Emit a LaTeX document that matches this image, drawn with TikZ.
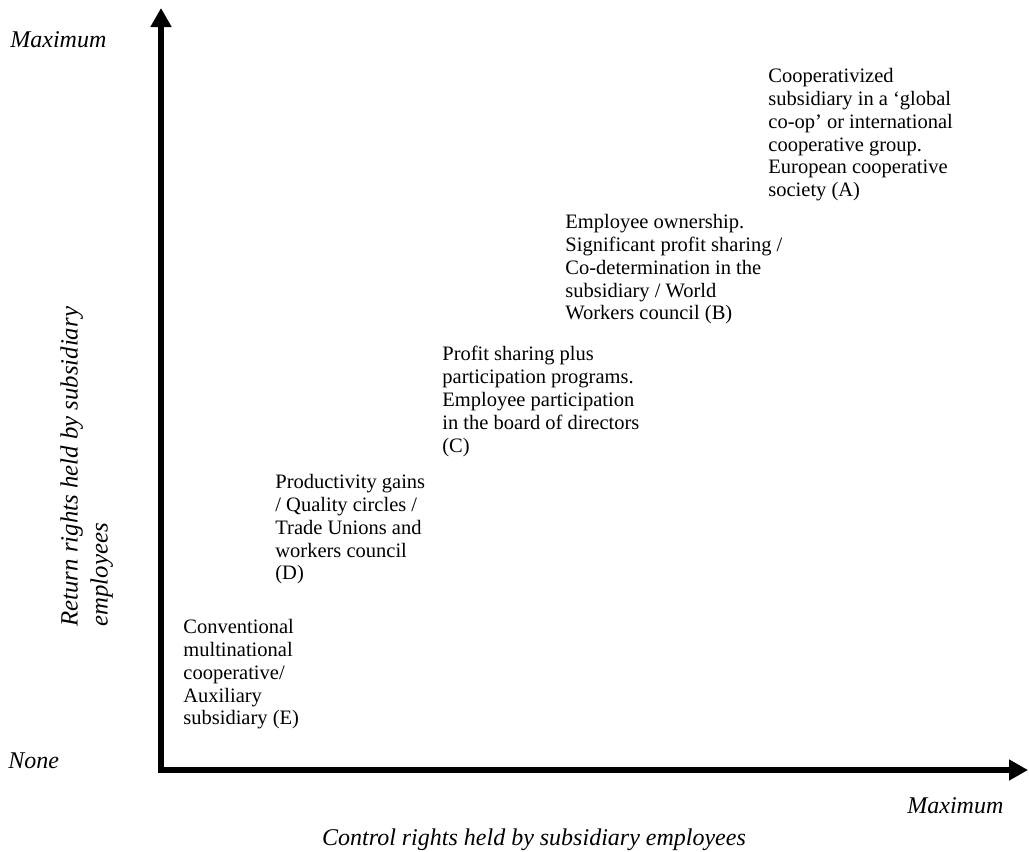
\documentclass[tikz,border=0pt]{standalone}
\usepackage{fontspec}
\setmainfont{Liberation Serif}
\usetikzlibrary{arrows.meta}
\tikzset{
	axis/.style={line width=2.6pt, -{Triangle[length=9.5pt,width=10pt]}},
	stagetext/.style={anchor=north west, align=left, inner sep=0pt, font=\fontsize{10.25}{11.4}\selectfont},
	axislabel/.style={inner sep=0pt, font=\fontsize{12}{14}\selectfont\itshape},
}
\begin{document}
\begin{tikzpicture}[x=0.5pt,y=-0.5pt]
	\useasboundingbox (0,0) rectangle (1029,852);
	% axes
	\coordinate (O) at (161,770);
	\coordinate (ytop) at (161,8);
	\coordinate (xend) at (1028,770);
	\draw[axis] ([yshift=-1.5pt]O) -- (ytop);
	\draw[axis] ([xshift=-1.5pt]O) -- (xend);

	% axis labels
	\node[axislabel, anchor=base west] (ymax) at (10,47) {Maximum};
	\node[axislabel, anchor=base west] (ymin) at (8,768) {None};
	\node[axislabel, anchor=base west] (xmax) at (907,813) {Maximum};
	\node[axislabel, anchor=base] (xlabel) at (534,845) {Control rights held by subsidiary employees};
	\node[axislabel, rotate=90, anchor=north west, align=left, font=\fontsize{12.4}{15}\selectfont\itshape] (ylabel) at (60,627) {Return rights held by subsidiary\\employees};

	% stages
	\node[stagetext] (E) at (183,619) {Conventional\\multinational\\cooperative/\\Auxiliary\\subsidiary (E)};
	\node[stagetext] (D) at (275,474) {Productivity gains\\/ Quality circles /\\Trade Unions and\\workers council\\(D)};
	\node[stagetext] (C) at (442,346) {Profit sharing plus\\participation programs.\\Employee participation\\in the board of directors\\(C)};
	\node[stagetext] (B) at (565,214) {Employee ownership.\\Significant profit sharing /\\Co-determination in the\\subsidiary / World\\Workers council (B)};
	\node[stagetext] (A) at (768,68) {Cooperativized\\subsidiary in a ‘global\\co-op’ or international\\cooperative group.\\European cooperative\\society (A)};
\end{tikzpicture}
\end{document}
